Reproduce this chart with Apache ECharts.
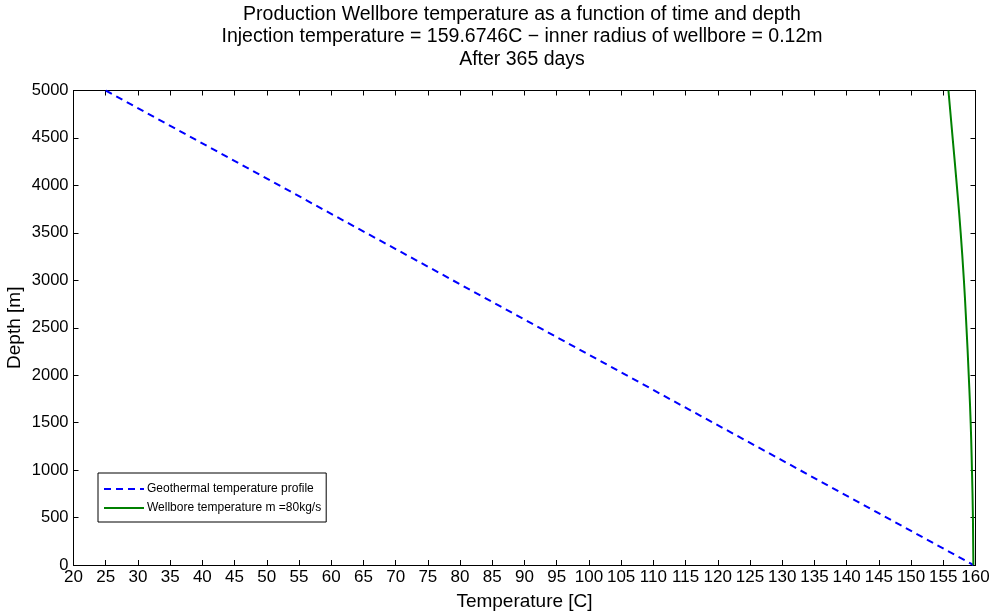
<!DOCTYPE html>
<html><head><meta charset="utf-8">
<script src="https://cdn.jsdelivr.net/npm/echarts@6/dist/echarts.min.js"></script>
<style>html,body{margin:0;padding:0;background:#fff}#c{width:991px;height:613px}</style>
</head><body><div id="c"></div>
<script>
const titleLines = ["Production Wellbore temperature as a function of time and depth",
  "Injection temperature = 159.6746C \u2212 inner radius of wellbore = 0.12m",
  "After 365 days"];
const xName = "Temperature [C]";
const yName = "Depth [m]";
const geoName = "Geothermal temperature profile";
const wellName = "Wellbore temperature m =80kg/s";
const geoTemp = [25, 159.6746];
const geoDepth = [5000, 0];
const wellDepth = [5000, 4500, 4000, 3500, 3000, 2500, 2000, 1500, 1000, 500, 0];
const wellTemp = [155.8, 156.45, 157.1, 157.7, 158.2, 158.6, 158.95, 159.25, 159.45, 159.6, 159.6746];
const xMin = 20, xMax = 160, xStep = 5;
const yMin = 0, yMax = 5000, yStep = 500;

const font = "'Liberation Sans', Arial, Helvetica, sans-serif";
const chart = echarts.init(document.getElementById('c'));
const axisCommon = {
  axisLine: {show: true, onZero: false, lineStyle: {color: '#000', width: 1}},
  axisTick: {show: true, inside: true, length: 5, lineStyle: {color: '#000'}},
  splitLine: {show: false}
};
chart.setOption({
  animation: false,
  backgroundColor: '#fff',
  textStyle: {fontFamily: font},
  title: {
    text: titleLines.join('\n'),
    left: 517, top: -2, textAlign: 'center',
    textStyle: {fontSize: 19.5, fontWeight: 'normal', color: '#000', lineHeight: 22.5, fontFamily: font}
  },
  grid: {left: 73.5, right: 15.5, top: 90.5, bottom: 48, containLabel: false, outerBoundsMode: 'none'},
  legend: {
    orient: 'vertical', left: 98, top: 473,
    backgroundColor: '#fff', borderColor: '#000', borderWidth: 1,
    padding: [10, 5, 8, 5], itemGap: 7, itemWidth: 40, itemHeight: 14,
    itemStyle: {opacity: 0},
    textStyle: {fontSize: 12, color: '#000', fontFamily: font, padding: [0,0,0,-2]},
    data: [geoName, wellName]
  },
  xAxis: [
    Object.assign({type: 'value', min: xMin, max: xMax, interval: xStep, position: 'bottom',
      name: xName, nameLocation: 'middle', nameGap: 27, nameMoveOverlap: false,
      nameTextStyle: {fontSize: 19, color: '#000', fontFamily: font},
      axisLabel: {fontSize: 17, color: '#000', margin: 4, fontFamily: font, hideOverlap: false}}, axisCommon),
    Object.assign({type: 'value', min: xMin, max: xMax, interval: xStep, position: 'top',
      axisLabel: {show: false}}, axisCommon)
  ],
  yAxis: [
    Object.assign({type: 'value', min: yMin, max: yMax, interval: yStep, position: 'left',
      name: yName, nameLocation: 'middle', nameGap: 49, nameMoveOverlap: false,
      nameTextStyle: {fontSize: 19, color: '#000', fontFamily: font},
      axisLabel: {fontSize: 16.5, color: '#000', margin: 5, fontFamily: font, formatter: v => String(v)}}, axisCommon),
    Object.assign({type: 'value', min: yMin, max: yMax, interval: yStep, position: 'right',
      axisLabel: {show: false}}, axisCommon)
  ],
  series: [
    {name: geoName, type: 'line', xAxisIndex: 0, yAxisIndex: 0, symbol: 'none',
     lineStyle: {color: '#0000ff', width: 2, type: [7, 5]}, itemStyle: {color: '#0000ff'},
     data: geoTemp.map((t, i) => [t, geoDepth[i]])},
    {name: wellName, type: 'line', xAxisIndex: 0, yAxisIndex: 0, symbol: 'none', smooth: true,
     lineStyle: {color: '#008000', width: 2}, itemStyle: {color: '#008000'},
     data: wellTemp.map((t, i) => [t, wellDepth[i]])}
  ]
});
</script></body></html>
